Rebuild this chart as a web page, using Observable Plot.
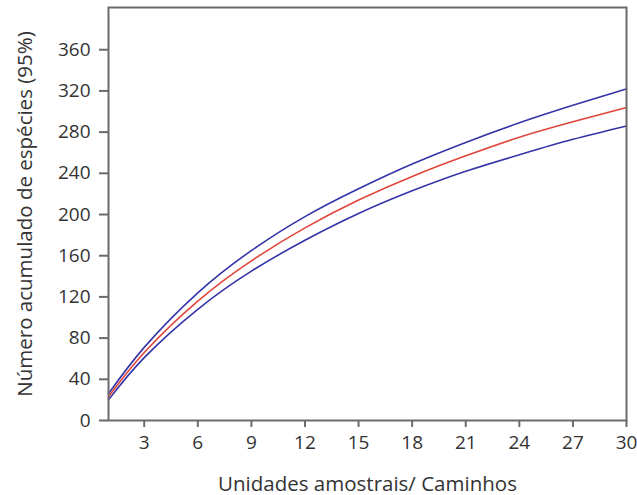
<!DOCTYPE html>
<html>
<head>
<meta charset="utf-8">
<script src="https://cdn.jsdelivr.net/npm/d3@7"></script>
<script src="https://cdn.jsdelivr.net/npm/@observablehq/plot@0.6"></script>
<style>
  html, body { margin: 0; padding: 0; background: #fff; }
  #chart { width: 637px; height: 495px; }
  #chart g[aria-label="x-axis label"] text, #chart g[aria-label="y-axis label"] text { font-size: 20.5px; }
</style>
</head>
<body>
<div id="chart"></div>
<script>
// Sample units (x)
const units = [1, 3, 6, 9, 12, 15, 18, 21, 24, 27, 30];
// Mean accumulated species (red)
const meanSpecies = [23, 66, 116, 155, 187, 214, 237, 257, 275, 290, 304];
// Upper 95% bound (blue)
const upperSpecies = [26, 71, 124, 165, 198, 225, 249, 270, 289, 306, 322];
// Lower 95% bound (blue)
const lowerSpecies = [20, 61, 108, 145, 175, 201, 223, 242, 258, 273, 286];
// Tick labels
const xTicks = [3, 6, 9, 12, 15, 18, 21, 24, 27, 30];
const yTicks = [0, 40, 80, 120, 160, 200, 240, 280, 320, 360];

const rows = (vals, s) => units.map((u, i) => ({x: u, y: vals[i], s}));
const data = [
  ...rows(upperSpecies, "upper"),
  ...rows(lowerSpecies, "lower"),
  ...rows(meanSpecies, "mean")
];

const frameColor = "#6b6b6b";
const plot = Plot.plot({
  width: 637,
  height: 495,
  marginLeft: 108,
  marginRight: 11,
  marginTop: 7,
  marginBottom: 75,
  style: {fontFamily: "'Open Sans', sans-serif", fontSize: "19px", color: "#333", background: "#fff"},
  x: {domain: [1, 30], ticks: xTicks, label: null},
  y: {domain: [0, 401], ticks: yTicks, label: null},
  color: {domain: ["upper", "lower", "mean"], range: ["#3434a8", "#3434a8", "#e0453a"]},
  marks: [
    Plot.line(data, {x: "x", y: "y", z: "s", stroke: "s", strokeWidth: 1.6, curve: "natural"}),
    Plot.frame({stroke: frameColor, strokeWidth: 2}),
    Plot.axisX({ticks: xTicks, tickSize: 7, tickPadding: 8, stroke: frameColor, strokeWidth: 2, fill: "#333",
      label: "Unidades amostrais/ Caminhos", labelAnchor: "center", labelOffset: 70, labelArrow: "none"}),
    Plot.axisY({ticks: yTicks, tickSize: 9, tickPadding: 9, stroke: frameColor, strokeWidth: 2, fill: "#333",
      label: "Número acumulado de espécies (95%)", labelAnchor: "center", labelOffset: 91, labelArrow: "none"})
  ]
});
document.getElementById("chart").appendChild(plot);
</script>
</body>
</html>
